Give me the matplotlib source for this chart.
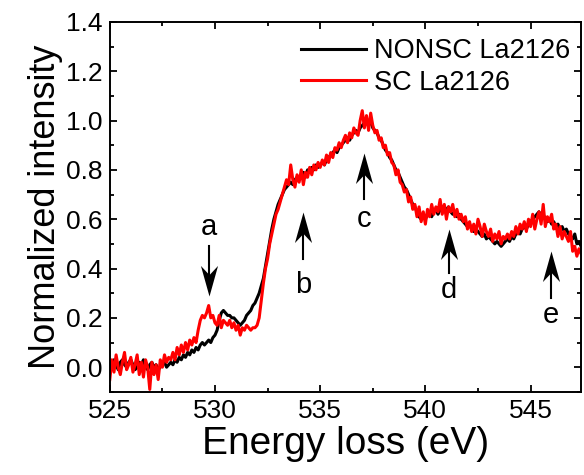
import numpy as np
import matplotlib
matplotlib.use("Agg")
import matplotlib.pyplot as plt
from matplotlib.ticker import MultipleLocator
from matplotlib.path import Path

plt.rcParams['font.family'] = ['Liberation Sans', 'DejaVu Sans']

# energy axis, 0.1 eV steps
energy = np.round(np.arange(525.0, 547.45, 0.1), 2)

nonsc = [
    0.02, 0.00, 0.03, 0.01, -0.01, 0.02, 0.03, 0.01, 0.00, 0.02,
    0.03, 0.01, -0.01, 0.00, 0.02, 0.01, 0.03, 0.00, -0.01, 0.01,
    0.02, 0.00, 0.01, -0.01, 0.00, 0.01, 0.02, 0.00, 0.01, 0.02,
    0.01, 0.03, 0.02, 0.04, 0.03, 0.05, 0.04, 0.06, 0.05, 0.07,
    0.06, 0.08, 0.07, 0.09, 0.10, 0.09, 0.10, 0.11, 0.10, 0.12,
    0.13, 0.15, 0.19, 0.22, 0.23, 0.22, 0.21, 0.21, 0.20, 0.20,
    0.19, 0.18, 0.17, 0.18, 0.19, 0.21, 0.22, 0.23, 0.25, 0.26,
    0.28, 0.30, 0.33, 0.36, 0.41, 0.46, 0.51, 0.56, 0.60, 0.63,
    0.66, 0.68, 0.70, 0.72, 0.73, 0.74, 0.75, 0.74, 0.76, 0.77,
    0.76, 0.78, 0.79, 0.77, 0.80, 0.79, 0.81, 0.80, 0.82, 0.81,
    0.82, 0.83, 0.82, 0.84, 0.85, 0.86, 0.87, 0.88, 0.87, 0.89,
    0.90, 0.91, 0.92, 0.93, 0.92, 0.94, 0.95, 0.96, 0.95, 0.97,
    0.98, 0.99, 1.00, 0.98, 1.00, 0.97, 0.96, 0.95, 0.93, 0.92,
    0.90, 0.88, 0.87, 0.85, 0.84, 0.82, 0.80, 0.79, 0.77, 0.75,
    0.73, 0.72, 0.70, 0.68, 0.66, 0.65, 0.63, 0.61, 0.60, 0.61,
    0.60, 0.62, 0.63, 0.61, 0.63, 0.64, 0.62, 0.64, 0.65, 0.63,
    0.64, 0.65, 0.63, 0.62, 0.63, 0.61, 0.62, 0.60, 0.59, 0.58,
    0.57, 0.58, 0.56, 0.55, 0.56, 0.55, 0.54, 0.53, 0.54, 0.52,
    0.53, 0.52, 0.51, 0.50, 0.51, 0.50, 0.49, 0.50, 0.51, 0.52,
    0.51, 0.53, 0.52, 0.54, 0.55, 0.54, 0.56, 0.57, 0.56, 0.58,
    0.59, 0.60, 0.61, 0.62, 0.63, 0.61, 0.62, 0.60, 0.59, 0.60,
    0.58, 0.59, 0.57, 0.58, 0.56, 0.57, 0.55, 0.56, 0.54, 0.53,
    0.52, 0.54, 0.50, 0.51, 0.49,
]

sc = [
    -0.05, 0.03, -0.02, 0.05, 0.00, -0.03, 0.02, 0.06, -0.01, 0.01,
    0.04, -0.02, 0.01, 0.05, -0.03, 0.02, -0.04, 0.03, 0.00, -0.09,
    0.02, -0.03, 0.01, -0.05, 0.03, 0.00, 0.05, 0.02, 0.04, 0.03,
    0.06, 0.03, 0.08, 0.05, 0.09, 0.06, 0.10, 0.07, 0.11, 0.09,
    0.12, 0.10, 0.15, 0.19, 0.21, 0.20, 0.22, 0.25, 0.20, 0.21,
    0.18, 0.17, 0.21, 0.16, 0.19, 0.18, 0.17, 0.19, 0.16, 0.18,
    0.15, 0.17, 0.13, 0.16, 0.15, 0.17, 0.16, 0.15, 0.16, 0.16,
    0.17, 0.20, 0.27, 0.34, 0.40, 0.44, 0.50, 0.54, 0.58, 0.62,
    0.64, 0.67, 0.70, 0.73, 0.76, 0.74, 0.82, 0.76, 0.73, 0.78,
    0.75, 0.80, 0.74, 0.79, 0.77, 0.81, 0.78, 0.82, 0.80, 0.83,
    0.81, 0.84, 0.82, 0.86, 0.83, 0.87, 0.85, 0.89, 0.88, 0.91,
    0.89, 0.92, 0.94, 0.91, 0.95, 0.93, 0.97, 0.95, 0.94, 1.00,
    1.04, 0.97, 1.02, 0.96, 1.03, 0.98, 0.95, 0.96, 0.92, 0.93,
    0.89, 0.90, 0.86, 0.87, 0.83, 0.82, 0.78, 0.80, 0.75, 0.74,
    0.71, 0.72, 0.67, 0.69, 0.64, 0.66, 0.61, 0.65, 0.59, 0.63,
    0.58, 0.64, 0.61, 0.66, 0.62, 0.65, 0.63, 0.68, 0.62, 0.66,
    0.60, 0.65, 0.63, 0.66, 0.61, 0.64, 0.60, 0.62, 0.59, 0.61,
    0.56, 0.59, 0.55, 0.58, 0.54, 0.60, 0.57, 0.53, 0.58, 0.55,
    0.53, 0.56, 0.51, 0.54, 0.52, 0.55, 0.50, 0.53, 0.52, 0.54,
    0.52, 0.55, 0.53, 0.57, 0.54, 0.58, 0.56, 0.59, 0.55, 0.60,
    0.57, 0.62, 0.56, 0.60, 0.63, 0.58, 0.66, 0.57, 0.61, 0.59,
    0.62, 0.56, 0.58, 0.53, 0.57, 0.52, 0.55, 0.53, 0.51, 0.55,
    0.47, 0.49, 0.45, 0.48, 0.46,
]

# peak markers: label, x, text y, arrow tail y, arrow tip y
labels = ['a', 'b', 'c', 'd', 'e']
label_x = [529.7, 534.2, 537.1, 541.1, 545.95]
label_y = [0.57, 0.335, 0.60, 0.315, 0.21]
tail_y = [0.49, 0.44, 0.68, 0.38, 0.28]
tip_y = [0.29, 0.63, 0.87, 0.56, 0.47]

# stealth-type arrow heads, tip at the marker origin
head_up = Path([(0, 0), (-0.28, -1), (0, -0.7), (0.28, -1), (0, 0)],
               [Path.MOVETO, Path.LINETO, Path.LINETO, Path.LINETO, Path.CLOSEPOLY])
head_down = Path([(0, 0), (-0.28, 1), (0, 0.7), (0.28, 1), (0, 0)],
                 [Path.MOVETO, Path.LINETO, Path.LINETO, Path.LINETO, Path.CLOSEPOLY])

fig = plt.figure(figsize=(5.84, 4.75), dpi=100)
ax = fig.add_axes([0.188, 0.175, 0.807, 0.779])

ax.plot(energy, nonsc, color='black', lw=2.2, label='NONSC La2126')
ax.plot(energy, sc, color='red', lw=2.2, label='SC La2126')

for lab, x, ty, y0, y1 in zip(labels, label_x, label_y, tail_y, tip_y):
    ax.text(x, ty, lab, fontsize=21, ha='center', va='center')
    ax.plot([x, x], [y0, y1 + (0.05 if y1 < y0 else -0.05)], color='black', lw=1.5)
    ax.plot([x], [y1], marker=head_down if y1 < y0 else head_up,
            markersize=44, color='black', markeredgewidth=0)

ax.set_xlim(525, 547.4)
ax.set_ylim(-0.1, 1.4)
ax.xaxis.set_major_locator(MultipleLocator(5))
ax.xaxis.set_minor_locator(MultipleLocator(2.5))
ax.yaxis.set_major_locator(MultipleLocator(0.2))
ax.yaxis.set_minor_locator(MultipleLocator(0.1))
ax.yaxis.set_major_formatter(matplotlib.ticker.FormatStrFormatter('%.1f'))
ax.tick_params(which='both', direction='in', top=True, right=True, width=1.3)
ax.tick_params(which='major', length=5, labelsize=19, pad=5)
ax.tick_params(which='minor', length=3)
for s in ax.spines.values():
    s.set_linewidth(1.4)

ax.set_xlabel('Energy loss (eV)', fontsize=28, labelpad=2)
ax.set_ylabel('Normalized intensity', fontsize=26, labelpad=2)

ax.legend(loc='upper right', frameon=False, fontsize=19.5, handlelength=2.4,
          handletextpad=0.3, labelspacing=0.2, borderaxespad=0.0,
          bbox_to_anchor=(1.0, 0.985))

fig.savefig('out.png', dpi=100)
